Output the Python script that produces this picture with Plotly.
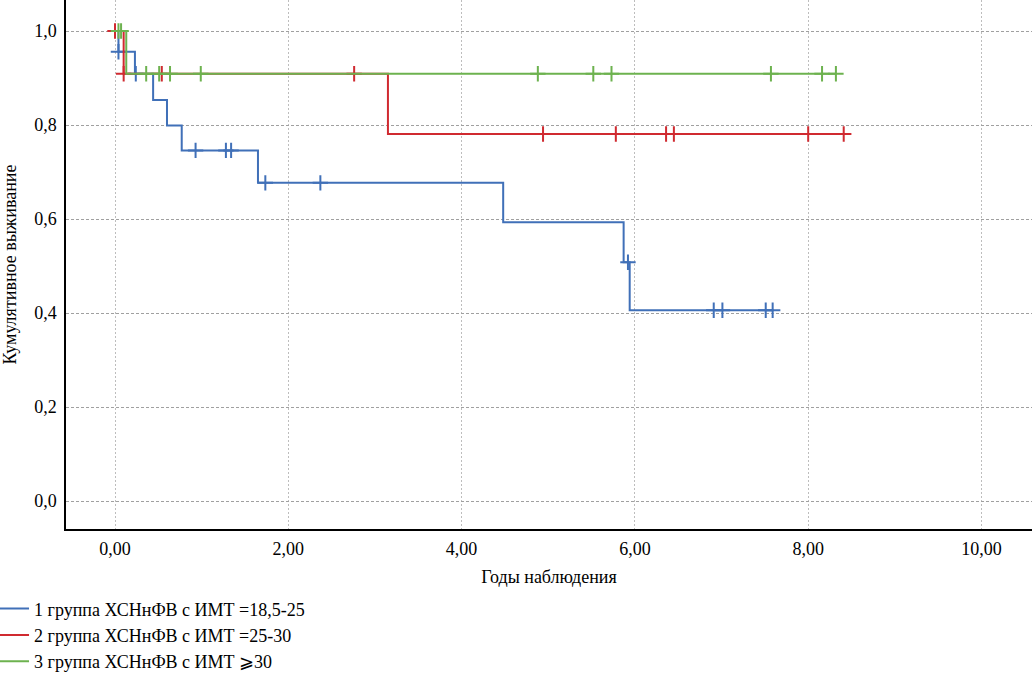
import plotly.graph_objects as go

# ---- data (years, cumulative survival) ----
group_names = [
    "1 группа ХСНнФВ с ИМТ =18,5-25",
    "2 группа ХСНнФВ с ИМТ =25-30",
    "3 группа ХСНнФВ с ИМТ ⩾30",
]

g1_times = [0.0, 0.04, 0.23, 0.44, 0.60, 0.77, 1.65, 4.48, 5.87, 5.94, 7.59]
g1_surv = [1.0, 0.956, 0.909, 0.853, 0.799, 0.746, 0.677, 0.593, 0.508, 0.406, 0.406]
g1_cens_t = [0.04, 0.24, 0.93, 1.28, 1.34, 1.735, 2.37, 5.92, 6.91, 7.01, 7.51, 7.59]
g1_cens_s = [0.956, 0.909, 0.746, 0.746, 0.746, 0.677, 0.677, 0.508, 0.406, 0.406, 0.406, 0.406]

g2_times = [0.0, 0.10, 3.15, 8.41]
g2_surv = [1.0, 0.909, 0.781, 0.781]
g2_cens_t = [0.0, 0.10, 0.54, 2.76, 4.94, 5.78, 6.36, 6.45, 8.00, 8.41]
g2_cens_s = [1.0, 0.909, 0.909, 0.909, 0.781, 0.781, 0.781, 0.781, 0.781, 0.781]

g3_times = [0.0, 0.13, 8.32]
g3_surv = [1.0, 0.909, 0.909]
g3_cens_t = [0.04, 0.07, 0.36, 0.51, 0.635, 0.99, 4.88, 5.52, 5.73, 7.57, 8.16, 8.32]
g3_cens_s = [1.0, 1.0, 0.909, 0.909, 0.909, 0.909, 0.909, 0.909, 0.909, 0.909, 0.909, 0.909]

colors = ["#4070b8", "#d02a30", "#6db24f"]

x_ticks = [0, 2, 4, 6, 8, 10]
y_ticks = [0.0, 0.2, 0.4, 0.6, 0.8, 1.0]

FONT = "Liberation Serif"
FS = 18

fig = go.Figure()

groups = [
    (g1_times, g1_surv, g1_cens_t, g1_cens_s),
    (g2_times, g2_surv, g2_cens_t, g2_cens_s),
    (g3_times, g3_surv, g3_cens_t, g3_cens_s),
]

for i, (t, s, ct, cs) in enumerate(groups):
    fig.add_trace(go.Scatter(
        x=t, y=s, mode="lines", line=dict(color=colors[i], width=2, shape="hv"),
        name=group_names[i], legendgroup=f"g{i}", showlegend=True, hoverinfo="skip"))
    fig.add_trace(go.Scatter(
        x=ct, y=cs, mode="markers",
        marker=dict(symbol="cross-thin", size=11, line=dict(color=colors[i], width=2)),
        legendgroup=f"g{i}", showlegend=False, hoverinfo="skip"))

fig.update_layout(
    width=1033, height=673,
    margin=dict(l=66, r=1, t=0, b=144, autoexpand=False),
    paper_bgcolor="white", plot_bgcolor="white",
    font=dict(family=FONT, size=FS, color="black"),
    separators=", ",
    showlegend=True,
    legend=dict(
        x=-0.0745, y=-0.116, xanchor="left", yanchor="top",
        bgcolor="rgba(0,0,0,0)", font=dict(family=FONT, size=FS),
        tracegroupgap=0, itemwidth=30,
    ),
)

fig.update_xaxes(
    range=[-0.5655, 10.583], tickvals=x_ticks, tickformat=".2f",
    showgrid=True, gridcolor="#bdbdbd", griddash="2px,2px", gridwidth=1,
    zeroline=False, showline=True, linecolor="black", linewidth=1.5,
    ticks="", ticklabelstandoff=3, automargin=False,
    title=dict(text="Годы наблюдения", font=dict(family=FONT, size=FS), standoff=12),
)
fig.update_yaxes(
    range=[-0.0595, 1.066], tickvals=y_ticks, tickformat=".1f",
    showgrid=True, gridcolor="#a0a0a0", griddash="3px,2px", gridwidth=1,
    zeroline=False, showline=True, linecolor="black", linewidth=1.5,
    ticks="", ticklabelstandoff=4, automargin=False,
    title=dict(text="Кумулятивное выживание", font=dict(family=FONT, size=FS), standoff=16),
)

fig.write_html("out.html", config={"displayModeBar": False},
               post_script="document.body.style.margin='0';")
